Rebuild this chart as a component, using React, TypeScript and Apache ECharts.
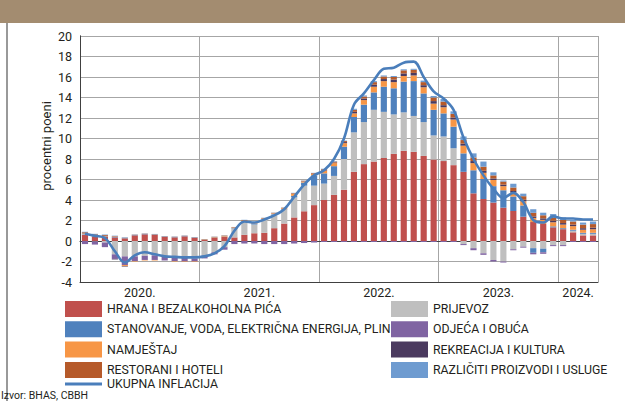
import { useEffect, useRef } from 'react';
import * as echarts from 'echarts';

const FONT = 'Roboto, sans-serif';

const years = ['2020', '2021', '2022', '2023', '2024'];
const monthsPerYear = [12, 12, 12, 12, 4];
const months: string[] = [];
years.forEach((y, yi) => {
  for (let m = 1; m <= monthsPerYear[yi]; m++) months.push(`${y}-${String(m).padStart(2, '0')}`);
});

const yearLabelPos = [6, 18, 30, 42, 50];
const yearLabels = ['2020.', '2021.', '2022.', '2023.', '2024.'];

const food = [0.6, 0.45, 0.4, 0.35, 0.25, 0.55, 0.65, 0.6, 0.4, 0.35, 0.45, 0.3,
  0.1, 0.3, 0.4, 0.35, 0.6, 0.75, 0.8, 1.25, 1.7, 2.3, 2.9, 3.5,
  4.0, 4.5, 5.0, 6.75, 7.5, 7.75, 8.1, 8.5, 8.8, 8.7, 8.3, 7.95,
  7.8, 7.4, 6.75, 4.65, 4.1, 3.75, 3.25, 2.93, 2.37, 1.85, 1.66, 1.33,
  1.15, 0.85, 0.55, 0.55];

const transport = [0.05, -0.05, -0.15, -1.3, -1.5, -1.5, -1.45, -1.4, -1.55, -1.6, -1.65, -1.7,
  -1.4, -1.1, -0.6, 0.85, 1.3, 0.85, 1.3, 1.35, 1.35, 1.95, 2.5, 1.9,
  1.6, 1.85, 3.0, 3.85, 4.1, 5.05, 4.5, 3.85, 3.75, 3.5, 3.3, 2.35,
  2.4, 1.65, -0.3, -0.7, -1.2, -1.85, -2.0, -0.8, -0.55, -0.7, -0.75, -0.4,
  -0.4, 0.15, 0.15, 0.15];

const housing = [0.05, 0.05, 0.05, 0.05, 0.03, 0.03, 0.03, 0.03, 0.03, 0.03, 0.03, 0.03,
  -0.05, 0.03, 0.03, 0.05, 0.05, 0.05, 0.05, 0.05, 0.05, 0.15, 0.3, 1.0,
  1.0, 0.95, 1.2, 1.5, 1.7, 1.7, 2.45, 2.55, 3.0, 3.4, 2.8, 2.5,
  2.25, 2.1, 1.8, 2.25, 1.95, 1.6, 1.7, 1.4, 1.1, -0.45, -0.35, 0.1,
  0.1, 0.1, 0.1, 0.1];

const clothing = [-0.3, -0.3, -0.45, -0.45, -0.85, -0.45, -0.4, -0.45, -0.35, -0.35, -0.35, -0.3,
  -0.25, -0.2, -0.25, -0.3, -0.25, -0.25, -0.3, -0.3, -0.3, -0.25, -0.2, -0.15,
  -0.1, -0.1, -0.1, -0.1, -0.1, -0.1, -0.1, -0.1, -0.1, -0.1, -0.1, -0.1,
  -0.1, -0.1, -0.1, -0.2, -0.15, -0.15, -0.1, -0.1, -0.1, -0.15, -0.15, -0.1,
  -0.1, -0.1, -0.1, -0.1];

const furnishing = [0.03, 0.03, 0.03, 0.02, -0.1, -0.05, -0.05, -0.05, 0, -0.05, -0.05, -0.05,
  0.02, 0.03, 0.05, 0.05, 0.05, 0.05, 0.05, 0.05, 0.1, 0.2, 0.1, 0.15,
  0.25, 0.3, 0.35, 0.35, 0.45, 0.55, 0.55, 0.6, 0.55, 0.55, 0.6, 0.6,
  0.6, 0.7, 0.75, 0.7, 0.6, 0.6, 0.4, 0.4, 0.4, 0.4, 0.4, 0.4,
  0.35, 0.35, 0.3, 0.35];

const recreation = [0.02, 0.02, 0.02, -0.05, -0.05, 0, 0, 0, 0, 0, 0, 0,
  0, 0, 0, 0, 0, 0, 0, 0, 0, 0.02, 0.03, 0.03,
  0.05, 0.05, 0.1, 0.15, 0.15, 0.2, 0.2, 0.25, 0.25, 0.25, 0.2, 0.25,
  0.2, 0.2, 0.2, 0.2, 0.2, 0.15, 0.15, 0.15, 0.15, 0.15, 0.15, 0.15,
  0.15, 0.15, 0.15, 0.15];

const restaurants = [0.1, 0.1, 0.08, 0.05, 0.03, 0.03, 0.03, 0.03, 0.03, 0.03, 0.03, 0.03,
  0.05, 0.05, 0.05, 0.05, 0.05, 0.03, 0.05, 0.05, 0.05, 0.05, 0.05, 0.05,
  0.1, 0.1, 0.1, 0.2, 0.2, 0.25, 0.25, 0.25, 0.3, 0.3, 0.3, 0.35,
  0.35, 0.35, 0.35, 0.35, 0.4, 0.3, 0.3, 0.35, 0.35, 0.35, 0.3, 0.3,
  0.3, 0.3, 0.35, 0.35];

const misc = [0.05, 0.05, 0.05, 0.05, 0.05, 0.03, 0.03, 0.03, 0.03, 0.03, 0.03, 0.03,
  0.02, 0.02, 0.02, 0.02, 0.02, 0.02, 0.02, 0.02, 0.02, 0.03, 0.02, 0.02,
  0.05, 0.05, 0.05, 0.1, 0.1, 0.1, 0.1, 0.1, 0.1, 0.1, 0.15, 0.15,
  0.25, 0.25, 0.35, 0.4, 0.5, 0.3, 0.1, 0.35, 0.25, 0.35, 0.25, 0.35,
  0.25, 0.15, 0.2, 0.25];

const total = [0.7, 0.5, 0.3, -1.0, -2.1, -1.4, -1.1, -1.3, -1.5, -1.55, -1.6, -1.6,
  -1.5, -1.2, -0.5, 1.0, 1.9, 1.8, 2.1, 2.5, 3.1, 4.3, 5.5, 6.4,
  6.9, 8.0, 10.0, 13.3, 14.4, 15.7, 16.8, 16.9, 17.4, 17.5, 16.0, 14.6,
  13.9, 12.8, 10.1, 8.0, 6.4, 5.1, 4.2, 4.7, 3.8, 2.05, 1.8, 2.4,
  2.2, 2.2, 2.1, 2.1];

const barDefs = [
  { name: 'HRANA I BEZALKOHOLNA PIĆA', data: food, color: '#C0504D' },
  { name: 'PRIJEVOZ', data: transport, color: '#BFBFBF' },
  { name: 'STANOVANJE, VODA, ELEKTRIČNA ENERGIJA, PLIN', data: housing, color: '#4F81BD' },
  { name: 'ODJEĆA I OBUĆA', data: clothing, color: '#8064A2' },
  { name: 'NAMJEŠTAJ', data: furnishing, color: '#F79646' },
  { name: 'REKREACIJA I KULTURA', data: recreation, color: '#4B3A5F' },
  { name: 'RESTORANI I HOTELI', data: restaurants, color: '#B65A2A' },
  { name: 'RAZLIČITI PROIZVODI I USLUGE', data: misc, color: '#6E9BD0' },
];
const lineName = 'UKUPNA INFLACIJA';
const lineColor = '#4A7EBB';

const leftLegend = [barDefs[0].name, barDefs[2].name, barDefs[4].name, barDefs[6].name];
const rightLegend = [barDefs[1].name, barDefs[3].name, barDefs[5].name, barDefs[7].name];

const TXT = '#231F20';
const GRID = '#A6A6A6';
const BORDER = '#404040';

export default function App() {
  const ref = useRef<HTMLDivElement>(null);
  useEffect(() => {
    const chart = echarts.init(ref.current!, null, { renderer: 'svg' });
    const legendText = { fontSize: 12.3, color: TXT, fontFamily: FONT, lineHeight: 16 };
    chart.setOption({
      animation: false,
      backgroundColor: '#fff',
      textStyle: { fontFamily: FONT },
      grid: { left: 80, right: 27, top: 36, bottom: 119 },
      xAxis: [
        {
          type: 'category',
          data: months,
          position: 'bottom',
          axisLine: { show: true, onZero: false, lineStyle: { color: BORDER, width: 1 } },
          axisTick: { show: false },
          axisLabel: { show: false },
          splitLine: { show: true, interval: (i: number) => i % 12 === 0, lineStyle: { color: GRID, width: 1 } },
        },
        {
          type: 'value',
          min: 0,
          max: 52,
          interval: 2,
          position: 'bottom',
          axisLine: { show: false },
          axisTick: { show: false },
          splitLine: { show: false },
          axisLabel: {
            margin: 4,
            fontSize: 12.5,
            color: TXT,
            fontFamily: FONT,
            formatter: (v: number) => {
              const k = yearLabelPos.indexOf(v);
              return k >= 0 ? yearLabels[k] : '';
            },
          },
        },
        {
          type: 'value',
          min: 0,
          max: 52,
          position: 'top',
          axisLine: { show: true, lineStyle: { color: BORDER, width: 1 } },
          axisTick: { show: false },
          axisLabel: { show: false },
          splitLine: { show: false },
        },
      ],
      yAxis: [
        {
          type: 'value',
          min: -4,
          max: 20,
          interval: 2,
          axisLine: { show: true, lineStyle: { color: BORDER, width: 1 } },
          axisTick: { show: false },
          axisLabel: { fontSize: 12.5, color: TXT, margin: 8, fontFamily: FONT },
          splitLine: { show: true, lineStyle: { color: GRID, width: 1 } },
        },
        {
          type: 'value',
          min: -4,
          max: 20,
          position: 'right',
          axisLine: { show: true, lineStyle: { color: BORDER, width: 1 } },
          axisTick: { show: false },
          axisLabel: { show: false },
          splitLine: { show: false },
        },
      ],
      legend: [
        {
          data: leftLegend,
          left: 65,
          top: 301,
          orient: 'vertical',
          padding: 0,
          itemWidth: 37,
          itemHeight: 16,
          itemGap: 4.3,
          icon: 'rect',
          selectedMode: false,
          textStyle: legendText,
        },
        {
          data: rightLegend,
          left: 391,
          top: 301,
          orient: 'vertical',
          padding: 0,
          itemWidth: 37,
          itemHeight: 16,
          itemGap: 4.3,
          icon: 'rect',
          selectedMode: false,
          textStyle: legendText,
        },
        {
          data: [{ name: lineName, icon: 'rect', itemStyle: { color: lineColor } }],
          left: 65,
          top: 378,
          orient: 'vertical',
          padding: 0,
          itemWidth: 37,
          itemHeight: 3,
          selectedMode: false,
          textStyle: { ...legendText, lineHeight: 12 },
        },
      ],
      graphic: [
        { type: 'rect', shape: { x: 0, y: 0, width: 625, height: 23 }, style: { fill: '#A38C70' }, silent: true },
        { type: 'line', shape: { x1: 7, y1: 23, x2: 7, y2: 401 }, style: { stroke: '#555', lineWidth: 1.2 }, silent: true },
        {
          type: 'text',
          x: 46,
          y: 146,
          rotation: Math.PI / 2,
          style: { text: 'procentni poeni', fontSize: 13, fontFamily: FONT, fill: TXT, align: 'center', verticalAlign: 'middle' },
          silent: true,
        },
        {
          type: 'text',
          x: 1,
          y: 390,
          style: { text: 'Izvor: BHAS, CBBH', fontSize: 10.5, fontFamily: FONT, fill: TXT, verticalAlign: 'top' },
          silent: true,
        },
      ],
      series: [
        ...barDefs.map((b) => ({
          type: 'bar',
          name: b.name,
          data: b.data,
          stack: 'total',
          barWidth: '62%',
          xAxisIndex: 0,
          yAxisIndex: 0,
          itemStyle: { color: b.color },
        })),
        {
          type: 'line',
          name: lineName,
          data: total,
          xAxisIndex: 0,
          yAxisIndex: 0,
          smooth: 0.35,
          symbol: 'none',
          z: 5,
          lineStyle: { color: lineColor, width: 2.6 },
          itemStyle: { color: lineColor },
        },
      ],
    });
    return () => chart.dispose();
  }, []);
  return (
    <div
      ref={ref}
      style={{ position: 'fixed', left: 0, top: 0, width: 625, height: 401, background: '#fff' }}
    />
  );
}
